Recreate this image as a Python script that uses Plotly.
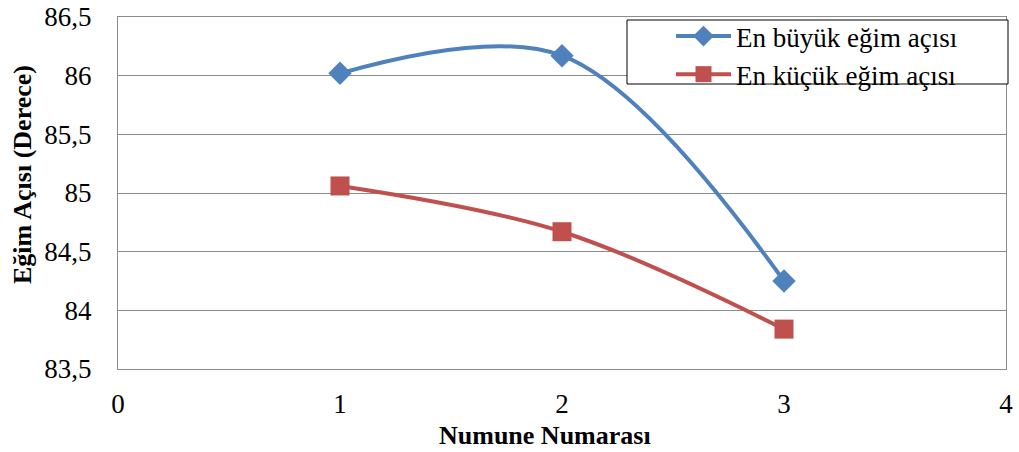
import plotly.graph_objects as go

# Sample numbers and measured tilt angles (degrees)
numune = [1, 2, 3]
en_buyuk = [86.02, 86.17, 84.25]
en_kucuk = [85.06, 84.67, 83.84]

y_ticks = [83.5, 84, 84.5, 85, 85.5, 86, 86.5]
y_ticktext = ["83,5", "84", "84,5", "85", "85,5", "86", "86,5"]
x_ticks = [0, 1, 2, 3, 4]

FONT = "Liberation Serif"
BLUE = "#4F81BD"
RED = "#C0504D"
GRID = "#8C8C8C"

L, R, T, B = 118, 13, 17, 83
PW, PH = 1019 - L - R, 452 - T - B


def px_x(px):
    return (px - L) / PW


def px_y(py):
    return (452 - B - py) / PH


fig = go.Figure()
fig.add_trace(go.Scatter(
    x=numune, y=en_buyuk, name="En büyük eğim açısı",
    mode="lines+markers",
    line=dict(color=BLUE, width=4, shape="spline", smoothing=1.0),
    marker=dict(symbol="diamond", size=18, color=BLUE),
))
fig.add_trace(go.Scatter(
    x=numune, y=en_kucuk, name="En küçük eğim açısı",
    mode="lines+markers",
    line=dict(color=RED, width=4, shape="spline", smoothing=1.0),
    marker=dict(symbol="square", size=19, color=RED),
))

# Legend frame
fig.add_shape(type="rect", xref="paper", yref="paper",
              x0=px_x(627), x1=px_x(1008), y0=px_y(84), y1=px_y(20),
              line=dict(color="black", width=1), fillcolor="white", layer="above")

# Axis titles
fig.add_annotation(text="<b>Numune Numarası</b>", xref="paper", yref="paper",
                   x=px_x(545), y=px_y(435), xanchor="center", yanchor="middle",
                   showarrow=False, font=dict(family=FONT, size=26))
fig.add_annotation(text="<b>Eğim Açısı (Derece)</b>", xref="paper", yref="paper",
                   x=px_x(22), y=px_y(175), xanchor="center", yanchor="middle",
                   textangle=-90, showarrow=False, font=dict(family=FONT, size=26))

fig.update_layout(
    width=1019, height=452,
    margin=dict(l=L, r=R, t=T, b=B, autoexpand=False),
    paper_bgcolor="white", plot_bgcolor="white",
    font=dict(family=FONT, size=26, color="black"),
    showlegend=True,
    legend=dict(
        x=px_x(671), xanchor="left",
        y=px_y(12), yanchor="top",
        bgcolor="rgba(0,0,0,0)", borderwidth=0,
        font=dict(family=FONT, size=27),
        tracegroupgap=0, itemwidth=55,
    ),
    xaxis=dict(
        range=[0, 4], tickvals=x_ticks, showgrid=False, zeroline=False,
        showline=True, linecolor=GRID, linewidth=1, mirror=True,
        ticks="", ticklabelstandoff=11, automargin=False,
        tickfont=dict(family=FONT, size=27),
    ),
    yaxis=dict(
        range=[83.5, 86.5], tickvals=y_ticks, ticktext=y_ticktext,
        showgrid=True, gridcolor=GRID, gridwidth=1, zeroline=False,
        showline=True, linecolor=GRID, linewidth=1, mirror=True,
        ticks="", ticklabelstandoff=20, automargin=False,
        tickfont=dict(family=FONT, size=27),
    ),
)

fig.write_html("out.html")
